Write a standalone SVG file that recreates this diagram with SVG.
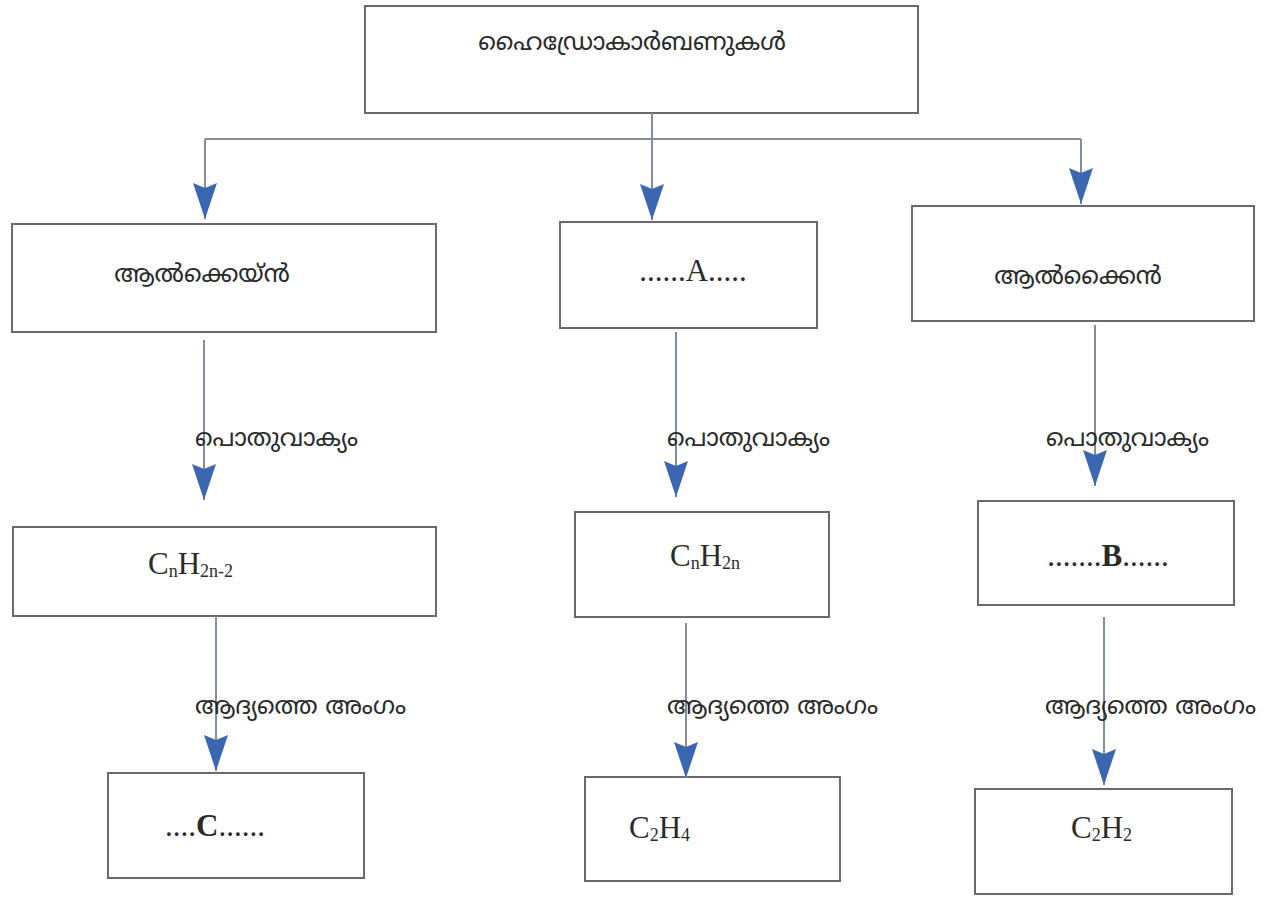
<svg xmlns="http://www.w3.org/2000/svg" width="1270" height="897" viewBox="0 0 1270 897">
<style>
.box{fill:#fff;stroke:#6a6a6a;stroke-width:2}
.ml{font-family:"Noto Sans Malayalam","Noto Serif Malayalam","Manjari","Rachana","Meera","Noto Sans",sans-serif;font-size:24.5px;fill:#2a2a2a}
.f{font-family:"Liberation Serif","Times New Roman",serif;font-size:31px;fill:#2a2a2a}
.s{font-size:18px}
.b{font-weight:bold}
.ln{fill:none;stroke:#7f8ea4;stroke-width:2}
</style>
<defs>
<marker id="ah" viewBox="0 0 36 24" markerUnits="userSpaceOnUse" markerWidth="36" markerHeight="24" refX="36" refY="12" orient="auto">
<path d="M0,0 L36,12 L0,24 L5,12 Z" fill="#3a66b2"/>
</marker>
</defs>
<rect width="1270" height="897" fill="#fff"/>
<g id="n-top"><rect class="box" x="365" y="6" width="553" height="107"/><text class="ml" x="632" y="50" text-anchor="middle">ഹൈഡ്രോകാർബണുകൾ</text></g>
<g id="n-alkane"><rect class="box" x="12" y="224" width="424" height="108"/><text class="ml" x="202" y="282" text-anchor="middle">ആൽക്കെയ്ൻ</text></g>
<g id="n-A"><rect class="box" x="560" y="222" width="257" height="106"/><text class="f" x="693" y="281" text-anchor="middle">......A.....</text></g>
<g id="n-alkyne"><rect class="box" x="912" y="206" width="342" height="115"/><text class="ml" x="1078" y="284" text-anchor="middle">ആൽക്കൈൻ</text></g>
<g id="n-f1"><rect class="box" x="13" y="527" width="423" height="89"/><text class="f" x="148" y="574">C<tspan class="s" dy="3">n</tspan><tspan dy="-3">H</tspan><tspan class="s" dy="3">2n-2</tspan></text></g>
<g id="n-f2"><rect class="box" x="575" y="512" width="254" height="105"/><text class="f" x="670" y="566">C<tspan class="s" dy="3">n</tspan><tspan dy="-3">H</tspan><tspan class="s" dy="3">2n</tspan></text></g>
<g id="n-B"><rect class="box" x="978" y="501" width="256" height="104"/><text class="f" x="1108" y="566" text-anchor="middle">.......<tspan class="b">B</tspan>......</text></g>
<g id="n-C"><rect class="box" x="108" y="773" width="256" height="105"/><text class="f" x="165" y="836">....<tspan class="b">C</tspan>......</text></g>
<g id="n-c2h4"><rect class="box" x="585" y="777" width="255" height="104"/><text class="f" x="629" y="838">C<tspan class="s" dy="3">2</tspan><tspan dy="-3">H</tspan><tspan class="s" dy="3">4</tspan></text></g>
<g id="n-c2h2"><rect class="box" x="975" y="789" width="257" height="105"/><text class="f" x="1071" y="838">C<tspan class="s" dy="3">2</tspan><tspan dy="-3">H</tspan><tspan class="s" dy="3">2</tspan></text></g>
<g id="connectors">
<path class="ln" d="M205,139 H1081"/>
<path class="ln" d="M652,113 V220" marker-end="url(#ah)"/>
<path class="ln" d="M205,139 V219" marker-end="url(#ah)"/>
<path class="ln" d="M1081,139 V204" marker-end="url(#ah)"/>
<path class="ln" d="M204,340 V500" marker-end="url(#ah)"/>
<path class="ln" d="M676,332 V497" marker-end="url(#ah)"/>
<path class="ln" d="M1095,325 V486" marker-end="url(#ah)"/>
<path class="ln" d="M216,616 V771" marker-end="url(#ah)"/>
<path class="ln" d="M686,623 V778" marker-end="url(#ah)"/>
<path class="ln" d="M1104,617 V785" marker-end="url(#ah)"/>
<text class="ml" x="195" y="446">പൊതുവാക്യം</text>
<text class="ml" x="667" y="446">പൊതുവാക്യം</text>
<text class="ml" x="1046" y="446">പൊതുവാക്യം</text>
<text class="ml" x="195" y="714">ആദ്യത്തെ അംഗം</text>
<text class="ml" x="667" y="714">ആദ്യത്തെ അംഗം</text>
<text class="ml" x="1045" y="714">ആദ്യത്തെ അംഗം</text>
</g>
</svg>
